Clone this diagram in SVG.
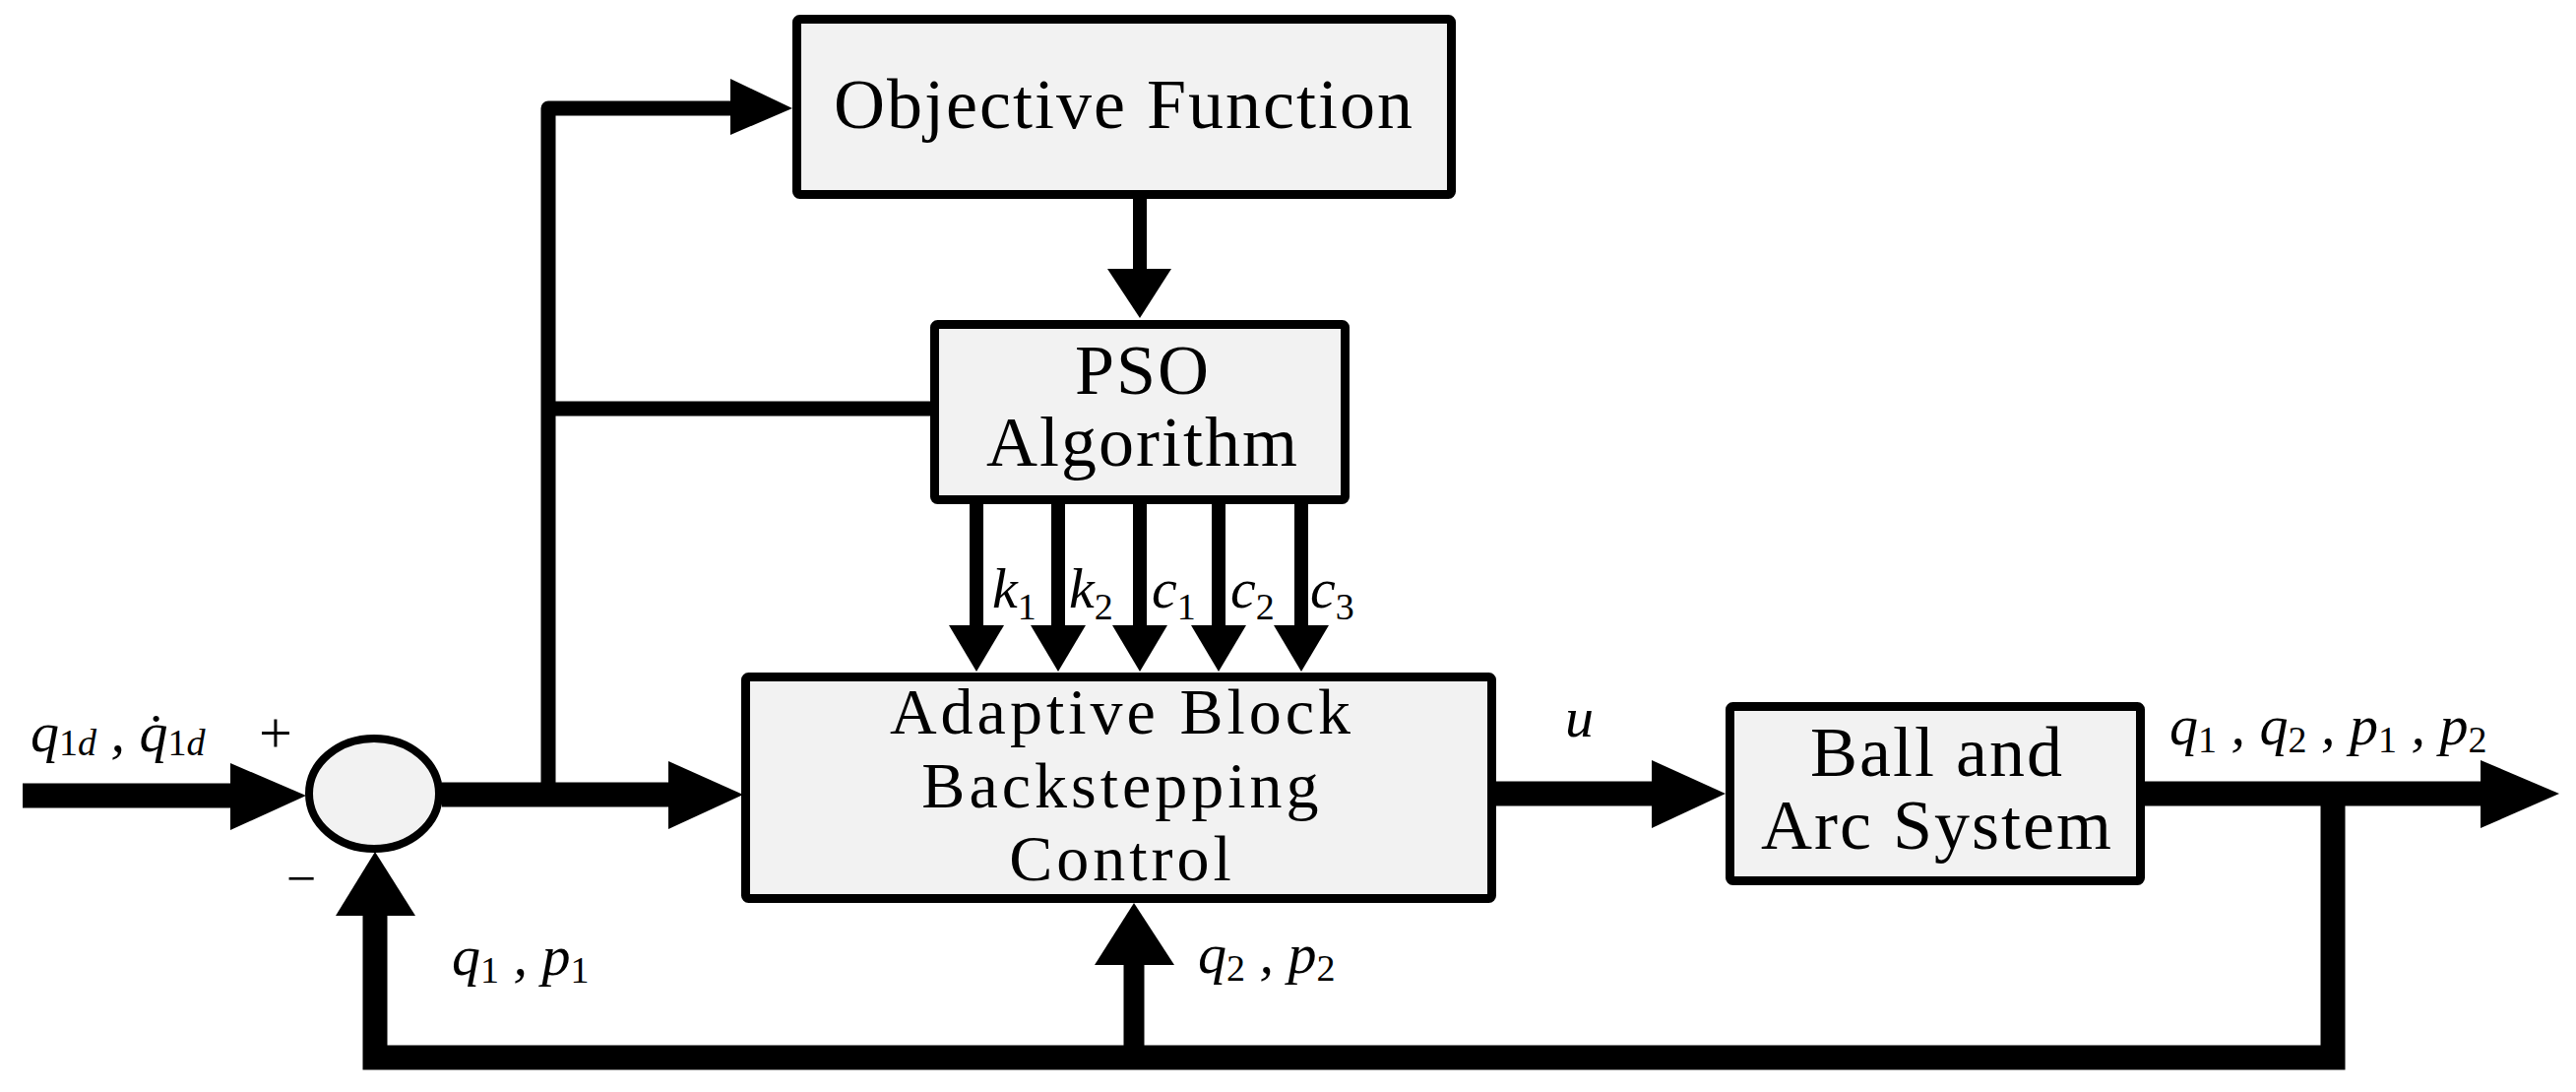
<svg xmlns="http://www.w3.org/2000/svg" width="2617" height="1109" viewBox="0 0 2617 1109">
<style>
.box{fill:#f2f2f2;stroke:#000;stroke-width:9;stroke-linejoin:round}
.lbl{font-family:"Liberation Serif",serif;font-size:72px;fill:#000;text-anchor:middle;letter-spacing:2px}
.abc{font-size:66px;letter-spacing:4px}
.m{font-family:"Liberation Serif",serif;font-size:58px;font-style:italic;fill:#000}
.s{font-size:38px;font-style:normal}
.thick{stroke:#000;stroke-width:25;fill:none}
.thin{stroke:#000;stroke-width:15;fill:none}
.head{fill:#000}
</style>
<rect width="2617" height="1109" fill="#fff"/>
<g id="connectors">
  <line class="thick" x1="23" y1="808" x2="236" y2="808"/>
  <polygon class="head" points="234,775 311,808 234,843"/>
  <line class="thick" x1="449" y1="807" x2="681" y2="807"/>
  <polygon class="head" points="679,773 755,807 679,842"/>
  <line class="thick" x1="1520" y1="806" x2="1680" y2="806"/>
  <polygon class="head" points="1678,772 1753,806 1678,841"/>
  <line class="thick" x1="2179" y1="806" x2="2522" y2="806"/>
  <polygon class="head" points="2520,772 2600,806 2520,841"/>
  <polyline class="thick" stroke-linejoin="miter" points="2370,806 2370,1074 381,1074 381,928"/>
  <polygon class="head" points="341,930 381,865 422,930"/>
  <line stroke="#000" stroke-width="21" x1="1152" y1="1074" x2="1152" y2="978"/>
  <polygon class="head" points="1112,980 1152,917 1193,980"/>
  <polyline class="thin" stroke-linejoin="round" stroke-linecap="round" points="557,807 557,110 744,110"/>
  <polygon class="head" points="742,80 805,110 742,137"/>
  <line class="thin" x1="557" y1="415" x2="947" y2="415"/>
  <line stroke="#000" stroke-width="14" x1="1158" y1="202" x2="1158" y2="275"/>
  <polygon class="head" points="1125,273 1158,323 1190,273"/>
  <g stroke="#000" stroke-width="14">
    <line x1="992" y1="512" x2="992" y2="637"/>
    <line x1="1075" y1="512" x2="1075" y2="637"/>
    <line x1="1158" y1="512" x2="1158" y2="637"/>
    <line x1="1238" y1="512" x2="1238" y2="637"/>
    <line x1="1322" y1="512" x2="1322" y2="637"/>
  </g>
  <polygon class="head" points="964,635 992,682 1020,635"/>
  <polygon class="head" points="1047,635 1075,682 1103,635"/>
  <polygon class="head" points="1130,635 1158,682 1186,635"/>
  <polygon class="head" points="1210,635 1238,682 1266,635"/>
  <polygon class="head" points="1294,635 1322,682 1350,635"/>
</g>
<g id="sum">
  <ellipse cx="380" cy="806" rx="66" ry="56" fill="#f2f2f2" stroke="#000" stroke-width="8"/>
</g>
<g id="objective">
  <rect class="box" x="809.5" y="19.5" width="665" height="178" rx="3"/>
  <text class="lbl" x="1142" y="130">Objective Function</text>
</g>
<g id="pso">
  <rect class="box" x="949.5" y="329.5" width="417" height="178" rx="3"/>
  <text class="lbl" x="1161" y="400">PSO</text>
  <text class="lbl" x="1161" y="473">Algorithm</text>
</g>
<g id="adaptive">
  <rect class="box" x="757.5" y="687.5" width="758" height="225" rx="3"/>
  <text class="lbl abc" x="1140" y="745">Adaptive Block</text>
  <text class="lbl abc" x="1140" y="820">Backstepping</text>
  <text class="lbl abc" x="1140" y="894">Control</text>
</g>
<g id="ball">
  <rect class="box" x="1757.5" y="717.5" width="417" height="177" rx="3"/>
  <text class="lbl" x="1968" y="788">Ball and</text>
  <text class="lbl" x="1968" y="862">Arc System</text>
</g>
<g id="labels">
  <text class="m" x="31" y="763" font-size="62">q<tspan class="s" font-size="40" dy="4">1<tspan font-style="italic">d</tspan></tspan><tspan dy="-4"> , q̇</tspan><tspan class="s" font-size="40" dy="4">1<tspan font-style="italic">d</tspan></tspan></text>
  <text x="280" y="764" font-family="Liberation Serif,serif" font-size="60" text-anchor="middle">+</text>
  <text x="306" y="910" font-family="Liberation Serif,serif" font-size="54" text-anchor="middle">−</text>
  <text class="m" x="459" y="990">q<tspan class="s" dy="8">1</tspan><tspan dy="-8"> , p</tspan><tspan class="s" dy="8">1</tspan></text>
  <text class="m" x="1217" y="988">q<tspan class="s" dy="8">2</tspan><tspan dy="-8"> , p</tspan><tspan class="s" dy="8">2</tspan></text>
  <text class="m" x="1590" y="748">u</text>
  <text class="m" x="2204" y="756">q<tspan class="s" dy="8">1</tspan><tspan dy="-8"> , q</tspan><tspan class="s" dy="8">2</tspan><tspan dy="-8"> , p</tspan><tspan class="s" dy="8">1</tspan><tspan dy="-8"> , p</tspan><tspan class="s" dy="8">2</tspan></text>
  <text class="m" font-size="56" x="1008" y="617">k<tspan class="s" font-size="34" dy="12">1</tspan></text>
  <text class="m" font-size="56" x="1086" y="617">k<tspan class="s" font-size="34" dy="12">2</tspan></text>
  <text class="m" font-size="56" x="1170" y="617">c<tspan class="s" font-size="34" dy="12">1</tspan></text>
  <text class="m" font-size="56" x="1250" y="617">c<tspan class="s" font-size="34" dy="12">2</tspan></text>
  <text class="m" font-size="56" x="1331" y="617">c<tspan class="s" font-size="34" dy="12">3</tspan></text>
</g>
</svg>
